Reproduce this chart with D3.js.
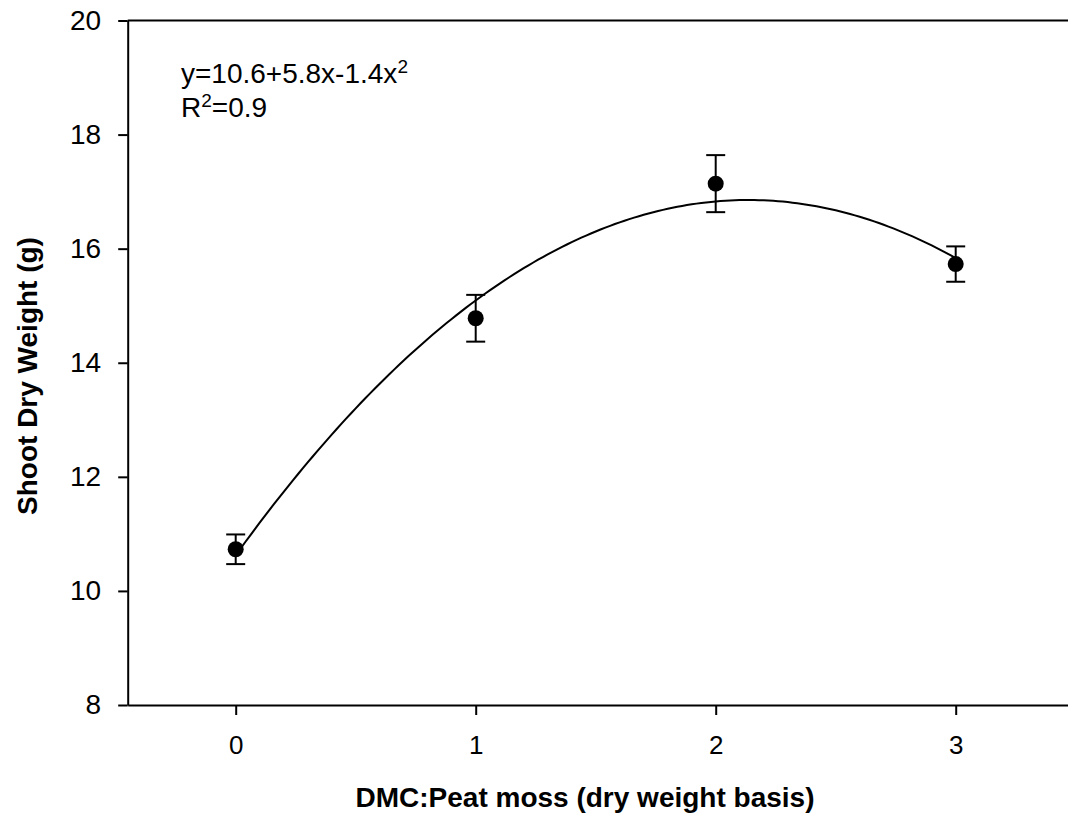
<!DOCTYPE html>
<html>
<head>
<meta charset="utf-8">
<script src="https://cdn.jsdelivr.net/npm/d3@7/dist/d3.min.js"></script>
<style>
  body { margin: 0; background: #fff; }
  svg { display: block; font-family: "Liberation Sans", Arial, sans-serif; }
</style>
</head>
<body>
<script>
// data
const ratios = [0, 1, 2, 3];
const shootWeight = [10.73, 14.78, 17.14, 15.73];
const stdErr = [0.26, 0.41, 0.5, 0.31];
const yTicks = [8, 10, 12, 14, 16, 18, 20];
const xTicks = [0, 1, 2, 3];

const w = 1068;
const h = 820;

const svg = d3.select("body")
  .append("svg")
  .attr("width", w)
  .attr("height", h);

// scales
const x = d3.scaleLinear().domain([-0.45, 3.5]).range([127.7, 127.7 + 3.95 * 240]);
const y = d3.scaleLinear().domain([8, 20]).range([705, 20.5]);

// quadratic least squares fit of the points (y = a + b x + c x^2)
function quadFit(xs, ys) {
  let S = [0, 0, 0, 0, 0], T = [0, 0, 0];
  xs.forEach((xi, i) => {
    for (let k = 0; k < 5; k++) S[k] += Math.pow(xi, k);
    for (let k = 0; k < 3; k++) T[k] += ys[i] * Math.pow(xi, k);
  });
  const M = [[S[0], S[1], S[2], T[0]], [S[1], S[2], S[3], T[1]], [S[2], S[3], S[4], T[2]]];
  for (let i = 0; i < 3; i++) {
    for (let j = i + 1; j < 3; j++) {
      const f = M[j][i] / M[i][i];
      for (let k = i; k < 4; k++) M[j][k] -= f * M[i][k];
    }
  }
  const c = [0, 0, 0];
  for (let i = 2; i >= 0; i--) {
    let s = M[i][3];
    for (let k = i + 1; k < 3; k++) s -= M[i][k] * c[k];
    c[i] = s / M[i][i];
  }
  return c;
}
const coef = quadFit(ratios, shootWeight);
const fitted = d3.range(0, 3.0001, 0.02).map(v => [v, coef[0] + coef[1] * v + coef[2] * v * v]);

// axes
const yAxis = d3.axisLeft(y).tickValues(yTicks).tickFormat(d3.format("d")).tickSize(9.5).tickSizeOuter(0).tickPadding(17);
const xAxis = d3.axisBottom(x).tickValues(xTicks).tickFormat(d3.format("d")).tickSize(10).tickSizeOuter(0).tickPadding(21);

const gy = svg.append("g")
  .attr("transform", "translate(" + x.range()[0] + ",0)")
  .call(yAxis);
gy.selectAll("text").attr("font-size", 28).attr("fill", "#000");

const gx = svg.append("g")
  .attr("transform", "translate(0," + y(8) + ")")
  .call(xAxis);
gx.selectAll("text").attr("font-size", 26).attr("fill", "#000");

svg.selectAll("g").attr("font-family", null);
svg.selectAll(".domain, .tick line").attr("stroke", "#000").attr("stroke-width", 2);

// top border
svg.append("line")
  .attr("x1", x.range()[0])
  .attr("x2", x.range()[1])
  .attr("y1", y(20))
  .attr("y2", y(20))
  .attr("stroke", "#000")
  .attr("stroke-width", 2);

// fitted curve
svg.append("path")
  .datum(fitted)
  .attr("fill", "none")
  .attr("stroke", "#000")
  .attr("stroke-width", 2)
  .attr("d", d3.line().x(d => x(d[0])).y(d => y(d[1])).curve(d3.curveMonotoneX));

// error bars
const pts = ratios.map((r, i) => ({ r: r, v: shootWeight[i], e: stdErr[i] }));
const bars = svg.append("g").attr("stroke", "#000").attr("stroke-width", 2);
bars.selectAll(".stem")
  .data(pts)
  .enter()
  .append("line")
  .attr("x1", d => x(d.r))
  .attr("x2", d => x(d.r))
  .attr("y1", d => y(d.v - d.e))
  .attr("y2", d => y(d.v + d.e));
bars.selectAll(".capTop")
  .data(pts)
  .enter()
  .append("line")
  .attr("x1", d => x(d.r) - 9.5)
  .attr("x2", d => x(d.r) + 9.5)
  .attr("y1", d => y(d.v + d.e))
  .attr("y2", d => y(d.v + d.e));
bars.selectAll(".capBot")
  .data(pts)
  .enter()
  .append("line")
  .attr("x1", d => x(d.r) - 9.5)
  .attr("x2", d => x(d.r) + 9.5)
  .attr("y1", d => y(d.v - d.e))
  .attr("y2", d => y(d.v - d.e));

// points
svg.selectAll("circle")
  .data(pts)
  .enter()
  .append("circle")
  .attr("cx", d => x(d.r))
  .attr("cy", d => y(d.v))
  .attr("r", 8)
  .attr("fill", "#000");

// equation text
const eq = svg.append("text").attr("x", 181).attr("y", 83).attr("font-size", 28);
eq.append("tspan").text("y=10.6+5.8x-1.4x");
eq.append("tspan").attr("font-size", 19).attr("dy", -10).text("2");

const r2 = svg.append("text").attr("x", 181).attr("y", 117).attr("font-size", 28);
r2.append("tspan").text("R");
r2.append("tspan").attr("font-size", 19).attr("dy", -10).text("2");
r2.append("tspan").attr("dy", 10).text("=0.9");

// axis titles
svg.append("text")
  .attr("x", 585)
  .attr("y", 807)
  .attr("text-anchor", "middle")
  .attr("font-size", 28)
  .attr("font-weight", "bold")
  .text("DMC:Peat moss (dry weight basis)");

svg.append("text")
  .attr("transform", "translate(37,376) rotate(-90)")
  .attr("text-anchor", "middle")
  .attr("font-size", 28)
  .attr("font-weight", "bold")
  .text("Shoot Dry Weight (g)");
</script>
</body>
</html>
